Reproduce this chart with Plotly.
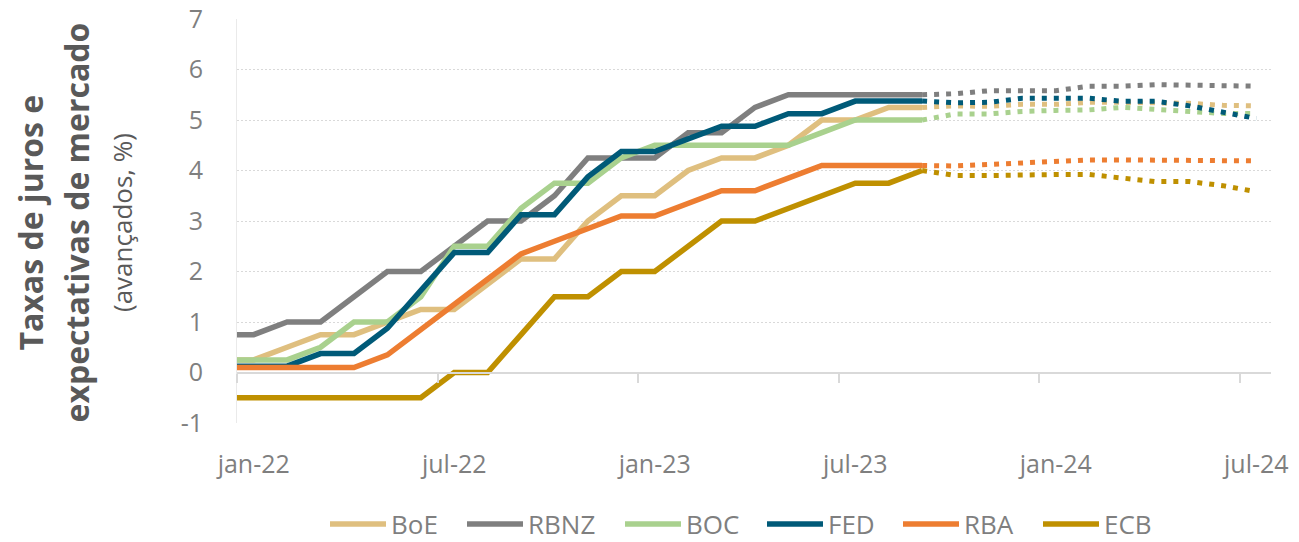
import plotly.graph_objects as go

months = ["dez-21", "jan-22", "fev-22", "mar-22", "abr-22", "mai-22", "jun-22", "jul-22", "ago-22",
          "set-22", "out-22", "nov-22", "dez-22", "jan-23", "fev-23", "mar-23", "abr-23", "mai-23",
          "jun-23", "jul-23", "ago-23", "set-23", "out-23", "nov-23", "dez-23", "jan-24", "fev-24",
          "mar-24", "abr-24", "mai-24", "jun-24", "jul-24"]
hist_months = months[:22]   # dez-21 .. set-23
proj_months = months[21:]   # set-23 .. jul-24
tick_labels = ["jan-22", "jul-22", "jan-23", "jul-23", "jan-24", "jul-24"]
y_ticks = [-1, 0, 1, 2, 3, 4, 5, 6, 7]

series_names = ["BoE", "RBNZ", "BOC", "FED", "RBA", "ECB"]

boe_hist = [0.25, 0.25, 0.5, 0.75, 0.75, 1.0, 1.25, 1.25, 1.75, 2.25, 2.25, 3.0, 3.5, 3.5, 4.0, 4.25, 4.25, 4.5, 5.0, 5.0, 5.25, 5.25]
rbnz_hist = [0.75, 0.75, 1.0, 1.0, 1.5, 2.0, 2.0, 2.5, 3.0, 3.0, 3.5, 4.25, 4.25, 4.25, 4.75, 4.75, 5.25, 5.5, 5.5, 5.5, 5.5, 5.5]
boc_hist = [0.25, 0.25, 0.25, 0.5, 1.0, 1.0, 1.5, 2.5, 2.5, 3.25, 3.75, 3.75, 4.25, 4.5, 4.5, 4.5, 4.5, 4.5, 4.75, 5.0, 5.0, 5.0]
fed_hist = [0.125, 0.125, 0.125, 0.375, 0.375, 0.875, 1.625, 2.375, 2.375, 3.125, 3.125, 3.875, 4.375, 4.375, 4.625, 4.875, 4.875, 5.125, 5.125, 5.375, 5.375, 5.375]
rba_hist = [0.1, 0.1, 0.1, 0.1, 0.1, 0.35, 0.85, 1.35, 1.85, 2.35, 2.6, 2.85, 3.1, 3.1, 3.35, 3.6, 3.6, 3.85, 4.1, 4.1, 4.1, 4.1]
ecb_hist = [-0.5, -0.5, -0.5, -0.5, -0.5, -0.5, -0.5, 0.0, 0.0, 0.75, 1.5, 1.5, 2.0, 2.0, 2.5, 3.0, 3.0, 3.25, 3.5, 3.75, 3.75, 4.0]

boe_proj = [5.25, 5.28, 5.27, 5.31, 5.31, 5.35, 5.35, 5.35, 5.33, 5.29, 5.28]
rbnz_proj = [5.5, 5.52, 5.58, 5.58, 5.58, 5.67, 5.67, 5.70, 5.68, 5.68, 5.67]
boc_proj = [5.0, 5.12, 5.12, 5.17, 5.19, 5.20, 5.25, 5.21, 5.19, 5.13, 5.13]
fed_proj = [5.375, 5.34, 5.35, 5.43, 5.43, 5.43, 5.37, 5.37, 5.28, 5.16, 5.03]
rba_proj = [4.1, 4.09, 4.12, 4.15, 4.16, 4.21, 4.21, 4.21, 4.19, 4.19, 4.19]
ecb_proj = [4.0, 3.90, 3.90, 3.92, 3.92, 3.92, 3.84, 3.78, 3.78, 3.70, 3.58]

hist = [boe_hist, rbnz_hist, boc_hist, fed_hist, rba_hist, ecb_hist]
proj = [boe_proj, rbnz_proj, boc_proj, fed_proj, rba_proj, ecb_proj]
colors = ["#DFBF7F", "#7F7F7F", "#A9D18E", "#005A78", "#ED7D31", "#BF9000"]

# layout: left pixel of each legend entry's line sample
legend_left_px = [330, 467, 625, 767, 903, 1043]

Y_MIN, Y_MAX = -1, 7
X_RANGE = [0.5, 31.44]
L_M, R_M, T_M, B_M = 237, 28, 19, 119
W, H = 1299, 542

def px_to_paper_x(px):
    return (px - L_M) / (W - L_M - R_M)

def px_to_paper_y(py):
    return (H - B_M - py) / (H - B_M - T_M)

legend_ids = ["legend"] + [f"legend{i}" for i in range(2, 7)]

fig = go.Figure()
for name, h, c, lid in zip(series_names, hist, colors, legend_ids):
    fig.add_trace(go.Scatter(x=hist_months, y=h, name=name, mode="lines",
                             line=dict(color=c, width=5.5), legendgroup=name, legend=lid))
for name, p, c in zip(series_names, proj, colors):
    fig.add_trace(go.Scatter(x=proj_months, y=p, name=name, mode="lines", showlegend=False,
                             line=dict(color=c, width=5, dash="5px,7px"), legendgroup=name))

# helper axis for the zero line with boundary ticks
boundary_ticks = [months.index(m) - 0.5 for m in tick_labels]
fig.add_trace(go.Scatter(x=[], y=[], xaxis="x2", showlegend=False, hoverinfo="skip"))

font_family = "Open Sans"
fig.update_layout(
    width=W, height=H,
    paper_bgcolor="white", plot_bgcolor="white",
    margin=dict(l=L_M, r=R_M, t=T_M, b=B_M, autoexpand=False),
    font=dict(family=font_family, color="#7F7F7F"),
    xaxis=dict(type="category", categoryorder="array", categoryarray=months,
               range=X_RANGE, tickmode="array", tickvals=tick_labels, ticktext=tick_labels,
               showgrid=False, showline=False, ticks="", zeroline=False,
               tickfont=dict(size=25, color="#7F7F7F"), ticklabelstandoff=24),
    xaxis2=dict(type="linear", overlaying="x", anchor="free",
                position=(0 - Y_MIN) / (Y_MAX - Y_MIN), range=X_RANGE,
                tickmode="array", tickvals=boundary_ticks, showticklabels=False,
                ticks="outside", ticklen=9, tickwidth=2, tickcolor="#D9D9D9",
                showline=True, linecolor="#D9D9D9", linewidth=2,
                showgrid=False, zeroline=False),
    yaxis=dict(range=[Y_MIN, Y_MAX], tickmode="array", tickvals=y_ticks,
               ticktext=[str(v) for v in y_ticks],
               showgrid=True, gridcolor="#D9D9D9", gridwidth=1, griddash="2px,2px",
               zeroline=False, showline=True, linecolor="#EAEAEA", linewidth=1,
               ticks="", tickfont=dict(size=25, color="#7F7F7F"), ticklabelstandoff=28),
    showlegend=True,
)

for lid, lx in zip(legend_ids, legend_left_px):
    fig.update_layout({lid: dict(orientation="h", x=px_to_paper_x(lx - 5), xanchor="left",
                                 y=px_to_paper_y(524), yanchor="middle",
                                 font=dict(size=26, color="#7F7F7F"), itemwidth=56,
                                 borderwidth=0, bgcolor="rgba(0,0,0,0)")})

y_mid = px_to_paper_y(223)
fig.add_annotation(text="Taxas de juros e", xref="paper", yref="paper",
                   x=px_to_paper_x(29.5), y=y_mid, xanchor="center", yanchor="middle",
                   textangle=-90, showarrow=False,
                   font=dict(family=font_family, size=32, color="#595959", weight="bold"))
fig.add_annotation(text="expectativas de mercado", xref="paper", yref="paper",
                   x=px_to_paper_x(75.5), y=y_mid, xanchor="center", yanchor="middle",
                   textangle=-90, showarrow=False,
                   font=dict(family=font_family, size=32, color="#595959", weight="bold"))
fig.add_annotation(text="(avançados, %)", xref="paper", yref="paper",
                   x=px_to_paper_x(122), y=y_mid, xanchor="center", yanchor="middle",
                   textangle=-90, showarrow=False,
                   font=dict(family=font_family, size=26, color="#595959"))

fig.write_html("out.html", config={"displayModeBar": False},
               post_script="document.body.style.margin='0px';document.body.style.padding='0px';")
